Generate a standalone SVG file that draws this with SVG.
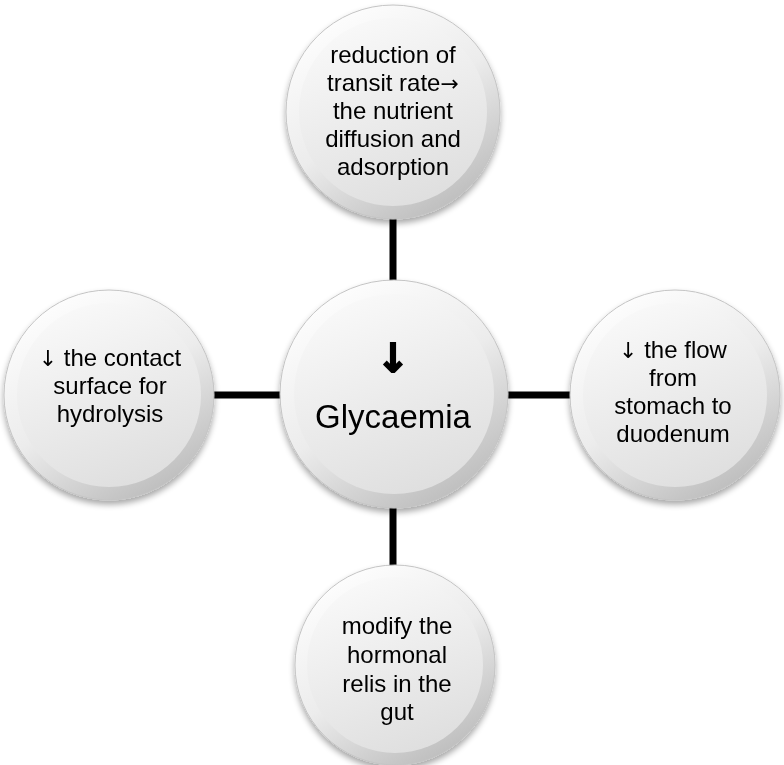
<svg xmlns="http://www.w3.org/2000/svg" width="784" height="765" viewBox="0 0 784 765">
<defs>
<linearGradient id="rim" x1="0.2" y1="0" x2="0.8" y2="1">
<stop offset="0" stop-color="#ffffff"/>
<stop offset="0.5" stop-color="#ececec"/>
<stop offset="1" stop-color="#b8b8b8"/>
</linearGradient>
<linearGradient id="face" x1="0.3" y1="0" x2="0.7" y2="1">
<stop offset="0" stop-color="#f9f9f9"/>
<stop offset="1" stop-color="#dedede"/>
</linearGradient>
<filter id="sh" x="-20%" y="-20%" width="140%" height="150%">
<feGaussianBlur in="SourceAlpha" stdDeviation="3"/>
<feOffset dx="0" dy="4" result="b"/>
<feComponentTransfer><feFuncA type="linear" slope="0.35"/></feComponentTransfer>
<feMerge><feMergeNode/><feMergeNode in="SourceGraphic"/></feMerge>
</filter>
</defs>
<style>
.rim{fill:url(#rim);stroke:#c4c4c4;stroke-width:1}
.face{fill:url(#face)}
.t{font-family:"Liberation Sans",Arial,sans-serif;font-size:24px;fill:#000;text-anchor:middle}
.sym{font-family:"DejaVu Sans",sans-serif;font-size:22px}
.big{font-family:"Liberation Sans",Arial,sans-serif;font-size:33px;fill:#000;text-anchor:middle}
.arr{font-family:"DejaVu Sans",sans-serif;font-size:40px;font-weight:bold;fill:#000;stroke:#000;stroke-width:1.5;text-anchor:middle}
.c{stroke:#000;stroke-width:7;fill:none}
</style>
<rect width="784" height="765" fill="#fff"/>
<g id="connectors">
<line class="c" x1="393" y1="215" x2="393" y2="290"/>
<line class="c" x1="393" y1="500" x2="393" y2="580"/>
<line class="c" x1="210" y1="395" x2="285" y2="395"/>
<line class="c" x1="505" y1="395" x2="575" y2="395"/>
</g>
<g id="center" filter="url(#sh)">
<circle class="rim" cx="394" cy="394" r="114"/>
<circle class="face" cx="394" cy="394" r="100"/>
<text class="arr" x="393" y="372">↓</text>
<text class="big" x="393" y="428">Glycaemia</text>
</g>
<g id="top" filter="url(#sh)">
<circle class="rim" cx="393" cy="112" r="107"/>
<circle class="face" cx="393" cy="112" r="94"/>
<text class="t" x="393" y="63">reduction of</text>
<text class="t" x="393" y="91">transit rate<tspan class="sym">→</tspan></text>
<text class="t" x="393" y="119">the nutrient</text>
<text class="t" x="393" y="147">diffusion and</text>
<text class="t" x="393" y="175">adsorption</text>
</g>
<g id="left" filter="url(#sh)">
<circle class="rim" cx="109" cy="395" r="105"/>
<circle class="face" cx="109" cy="395" r="92"/>
<text class="t" x="110" y="366"><tspan class="sym">↓</tspan> the contact</text>
<text class="t" x="110" y="394">surface for</text>
<text class="t" x="110" y="422">hydrolysis</text>
</g>
<g id="right" filter="url(#sh)">
<circle class="rim" cx="675" cy="395" r="105"/>
<circle class="face" cx="675" cy="395" r="92"/>
<text class="t" x="673" y="358"><tspan class="sym">↓</tspan> the flow</text>
<text class="t" x="673" y="386">from</text>
<text class="t" x="673" y="414">stomach to</text>
<text class="t" x="673" y="442">duodenum</text>
</g>
<g id="bottom" filter="url(#sh)">
<circle class="rim" cx="395" cy="665" r="100"/>
<circle class="face" cx="395" cy="665" r="88"/>
<text class="t" x="397" y="634">modify the</text>
<text class="t" x="397" y="663">hormonal</text>
<text class="t" x="397" y="692">relis in the</text>
<text class="t" x="397" y="720">gut</text>
</g>
</svg>
